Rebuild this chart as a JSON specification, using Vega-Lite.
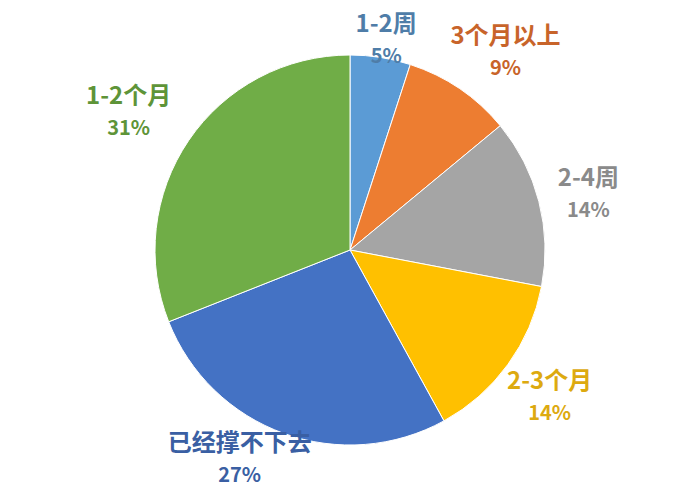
{
  "$schema": "https://vega.github.io/schema/vega-lite/v6.json",
  "width": 700,
  "height": 500,
  "padding": 0,
  "autosize": "none",
  "background": "white",
  "view": {"stroke": null},
  "data": {
    "values": [
      {"idx": 1, "category": "1-2周", "pct": 5},
      {"idx": 2, "category": "3个月以上", "pct": 9},
      {"idx": 3, "category": "2-4周", "pct": 14},
      {"idx": 4, "category": "2-3个月", "pct": 14},
      {"idx": 5, "category": "已经撑不下去", "pct": 27},
      {"idx": 6, "category": "1-2个月", "pct": 31}
    ]
  },
  "transform": [{"calculate": "datum.pct + '%'", "as": "pctText"}],
  "encoding": {
    "theta": {"field": "pct", "type": "quantitative", "stack": true},
    "order": {"field": "idx", "type": "quantitative"}
  },
  "layer": [
    {
      "mark": {"type": "arc", "outerRadius": 195, "stroke": "white", "strokeWidth": 1},
      "encoding": {
        "color": {
          "field": "category",
          "type": "nominal",
          "legend": null,
          "scale": {
            "domain": ["1-2周", "3个月以上", "2-4周", "2-3个月", "已经撑不下去", "1-2个月"],
            "range": ["#5B9BD5", "#ED7D31", "#A5A5A5", "#FFC000", "#4472C4", "#70AD47"]
          }
        }
      }
    },
    {
      "mark": {
        "type": "text",
        "radius": {"expr": "datum.category === '1-2周' ? 212 : datum.category === '1-2个月' ? 258 : datum.category === '3个月以上' ? 250 : 243"},
        "dx": {"expr": "datum.category === '3个月以上' ? 15 : datum.category === '已经撑不下去' ? -28 : datum.category === '1-2个月' ? -8 : 3"},
        "dy": {"expr": "-16 + (datum.category === '3个月以上' ? 10 : datum.category === '已经撑不下去' ? -19 : datum.category === '1-2个月' ? 8 : datum.category === '1-2周' ? 0 : 5)"},
        "font": "Noto Sans CJK SC",
        "fontSize": 24,
        "fontWeight": "bold"
      },
      "encoding": {
        "text": {"field": "category"},
        "color": {
          "field": "category",
          "type": "nominal",
          "legend": null,
          "scale": {
            "domain": ["1-2周", "3个月以上", "2-4周", "2-3个月", "已经撑不下去", "1-2个月"],
            "range": ["#4F7DA8", "#C8642A", "#8A8A8A", "#DDAA10", "#3A5FA3", "#5E9438"]
          }
        }
      }
    },
    {
      "mark": {
        "type": "text",
        "radius": {"expr": "datum.category === '1-2周' ? 212 : datum.category === '1-2个月' ? 258 : datum.category === '3个月以上' ? 250 : 243"},
        "dx": {"expr": "datum.category === '3个月以上' ? 15 : datum.category === '已经撑不下去' ? -28 : datum.category === '1-2个月' ? -8 : 3"},
        "dy": {"expr": "16 + (datum.category === '3个月以上' ? 10 : datum.category === '已经撑不下去' ? -19 : datum.category === '1-2个月' ? 8 : datum.category === '1-2周' ? 0 : 5)"},
        "font": "Noto Sans CJK SC",
        "fontSize": 20,
        "fontWeight": "bold"
      },
      "encoding": {
        "text": {"field": "pctText"},
        "color": {
          "field": "category",
          "type": "nominal",
          "legend": null,
          "scale": {
            "domain": ["1-2周", "3个月以上", "2-4周", "2-3个月", "已经撑不下去", "1-2个月"],
            "range": ["#4F7DA8", "#C8642A", "#8A8A8A", "#DDAA10", "#3A5FA3", "#5E9438"]
          }
        }
      }
    }
  ],
  "resolve": {"scale": {"color": "independent"}}
}
